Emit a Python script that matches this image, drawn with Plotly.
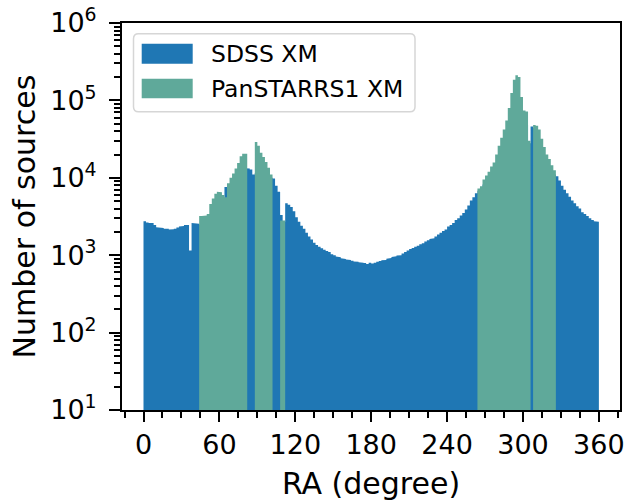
import plotly.graph_objects as go

# ---------------- data ----------------
bin_width = 2  # degrees
ra_left_edges = list(range(0, 360, 2))

sdss_counts = [
    2750, 2650, 2600, 2600, 2450, 2300, 2250, 2250, 2200, 2200,
    2150, 2170, 2200, 2280, 2350, 2380, 2450, 2460, 1150, 2600,
    2600, 2550, 2500, 2600, 2700, 2900, 3300, 3800, 4300, 4700,
    5000, 5300, 7600, 7800, 8200, 9000, 10000, 11000, 12000, 12800,
    13300, 13200, 12800, 11000, 11500, 11800, 11200, 10800, 10500, 10200,
    10000, 9800, 7900, 6600, 3300, 2700, 4700, 4500, 4200, 3700,
    3100, 2700, 2400, 2200, 1950, 1750, 1600, 1450, 1350, 1290,
    1230, 1180, 1130, 1100, 1030, 1000, 960, 940, 910, 890,
    880, 870, 850, 830, 820, 810, 800, 790, 770, 800,
    780, 800, 820, 840, 860, 870, 900, 920, 950, 970,
    990, 1000, 1050, 1100, 1150, 1200, 1240, 1290, 1320, 1380,
    1430, 1500, 1560, 1620, 1650, 1750, 1850, 1950, 2050, 2150,
    2350, 2450, 2600, 2850, 3000, 3250, 3500, 3900, 4400, 5100,
    5600, 6300, 6800, 7400, 8200, 9000, 10000, 11500, 13000, 15000,
    17000, 20000, 23000, 26000, 30000, 34000, 38000, 42000, 45000, 47000,
    48000, 48000, 28000, 46000, 44000, 40000, 30000, 24000, 19000, 16000,
    14000, 12000, 11000, 10500, 9200, 7900, 7000, 6300, 5700, 5100,
    4700, 4300, 4000, 3600, 3400, 3200, 3000, 2850, 2750, 2700,
]

ps1_counts = [
    0, 0, 0, 0, 0, 0, 0, 0, 0, 0,
    0, 0, 0, 0, 0, 0, 0, 0, 0, 0,
    0, 0, 3200, 3200, 3250, 3400, 4600, 5400, 6200, 6600,
    6500, 6000, 5600, 8500, 10000, 11400, 13200, 15500, 19000, 20500,
    20500, 0, 0, 0, 29000, 26000, 21000, 18600, 16000, 13500,
    11000, 0, 0, 0, 2800, 2800, 0, 0, 0, 0,
    0, 0, 0, 0, 0, 0, 0, 0, 0, 0,
    0, 0, 0, 0, 0, 0, 0, 0, 0, 0,
    0, 0, 0, 0, 0, 0, 0, 0, 0, 0,
    0, 0, 0, 0, 0, 0, 0, 0, 0, 0,
    0, 0, 0, 0, 0, 0, 0, 0, 0, 0,
    0, 0, 0, 0, 0, 0, 0, 0, 0, 0,
    0, 0, 0, 0, 0, 0, 0, 0, 0, 0,
    0, 0, 7300, 7800, 9500, 10700, 12000, 14000, 15800, 20000,
    26000, 33000, 42000, 55000, 80000, 125000, 185000, 211000, 200000, 111000,
    74000, 72000, 30000, 0, 48000, 47000, 42000, 32000, 25000, 20000,
    17500, 14500, 12500, 0, 0, 0, 0, 0, 0, 0,
    0, 0, 0, 0, 0, 0, 0, 0, 0, 0,
]

series_names = ["SDSS XM", "PanSTARRS1 XM"]
x_tick_values = [0, 60, 120, 180, 240, 300, 360]
y_tick_values = [10, 100, 1000, 10000, 100000, 1000000]
y_tick_labels = ["10<sup>1</sup>", "10<sup>2</sup>", "10<sup>3</sup>",
                 "10<sup>4</sup>", "10<sup>5</sup>", "10<sup>6</sup>"]

# ---------------- styling ----------------
BLUE = "#1f77b4"
GREEN = "#5fa99a"
FONT = "DejaVu Sans"
W, H = 628, 504
# plot area in page pixels
PX0, PX1, PY0, PY1 = 122, 620, 22.7, 410
L, R, T, B = PX0, W - PX1, PY0, H - PY1
FLOOR = 1  # below the visible log range; the fill is clipped by the axes


def step_outline(edges, counts, width):
    """Histogram outline (steps) of every run of non-empty bins, separated by gaps."""
    xs, ys = [], []
    run = False
    for e, c in zip(edges, counts):
        if c > 0:
            if not run:
                xs += [e]
                ys += [FLOOR]
                run = True
            xs += [e, e + width]
            ys += [c, c]
        elif run:
            xs += [xs[-1], None]
            ys += [FLOOR, None]
            run = False
    if run:
        xs += [xs[-1]]
        ys += [FLOOR]
    return xs, ys


fig = go.Figure()
for counts, col, name in [(sdss_counts, BLUE, series_names[0]),
                          (ps1_counts, GREEN, series_names[1])]:
    xs, ys = step_outline(ra_left_edges, counts, bin_width)
    fig.add_trace(go.Scatter(x=xs, y=ys, mode="lines", fill="toself",
                             fillcolor=col, line=dict(width=0, color=col),
                             name=name, showlegend=False, hoverinfo="skip",
                             connectgaps=False))

minor_y = [k * 10 ** n for n in range(1, 6) for k in range(2, 10)]

fig.update_layout(
    width=W, height=H,
    margin=dict(l=L, r=R, t=T, b=B, pad=0, autoexpand=False),
    paper_bgcolor="white", plot_bgcolor="white",
    font=dict(family=FONT, color="black"),
    xaxis=dict(
        range=[-17, 376.7], tickvals=x_tick_values, automargin=False,
        ticks="outside", ticklen=10, tickwidth=2, tickcolor="black",
        tickfont=dict(size=27, family=FONT, color="black"),
        ticklabeloverflow="allow",
        showline=True, linewidth=2, linecolor="black", mirror=True,
        showgrid=False, zeroline=False,
        minor=dict(dtick=15, tick0=0, ticks="outside", ticklen=6, tickwidth=1.5,
                   tickcolor="black", showgrid=False),
        title=dict(text="RA (degree)", font=dict(size=30, family=FONT), standoff=14),
    ),
    yaxis=dict(
        type="log", range=[1, 6], automargin=False,
        tickvals=y_tick_values, ticktext=y_tick_labels,
        ticks="outside", ticklen=11, tickwidth=2, tickcolor="black",
        tickfont=dict(size=27, family=FONT, color="black"),
        ticklabeloverflow="allow", ticklabelstandoff=7,
        showline=True, linewidth=2, linecolor="black", mirror=True,
        showgrid=False, zeroline=False,
        minor=dict(tickvals=minor_y, ticks="outside", ticklen=6, tickwidth=1.5,
                   tickcolor="black", showgrid=False),
        title=dict(text="Number of sources", font=dict(size=30, family=FONT), standoff=6),
    ),
)

# ---------------- legend drawn as a matplotlib-style box ----------------
PW = PX1 - PX0
PH = PY1 - PY0


def fx(p):
    return (p - PX0) / PW


def fy(p):
    return (PY1 - p) / PH


def rounded_rect(x0, y0, x1, y1, r):
    rx, ry = r / PW, r / PH
    X0, X1 = fx(x0), fx(x1)
    Y0, Y1 = fy(y0), fy(y1)  # Y0 is the top
    return (f"M {X0+rx},{Y0} L {X1-rx},{Y0} Q {X1},{Y0} {X1},{Y0-ry} "
            f"L {X1},{Y1+ry} Q {X1},{Y1} {X1-rx},{Y1} "
            f"L {X0+rx},{Y1} Q {X0},{Y1} {X0},{Y1+ry} "
            f"L {X0},{Y0-ry} Q {X0},{Y0} {X0+rx},{Y0} Z")


fig.add_shape(type="path", xref="paper", yref="paper",
              path=rounded_rect(133.5, 33.5, 415, 111.5, 5),
              fillcolor="rgba(255,255,255,0.8)", line=dict(color="#d6d6d6", width=1.5))

legend_rows = [(BLUE, 43.5, 63.5, 53.5), (GREEN, 78.5, 98, 88.3)]
for (col, y0, y1, yc), name in zip(legend_rows, series_names):
    fig.add_shape(type="rect", xref="paper", yref="paper",
                  x0=fx(141.7), x1=fx(192.7), y0=fy(y1), y1=fy(y0),
                  fillcolor=col, line=dict(width=0))
    fig.add_annotation(xref="paper", yref="paper", x=fx(209), y=fy(yc),
                       text=name, showarrow=False, xanchor="left", yanchor="middle",
                       font=dict(size=23.5, family=FONT, color="black"))

# the page's default body margin would shift the figure; remove it
fig.write_html("out.html",
               config={"displayModeBar": False},
               post_script="document.body.style.margin='0';document.body.style.padding='0';")
